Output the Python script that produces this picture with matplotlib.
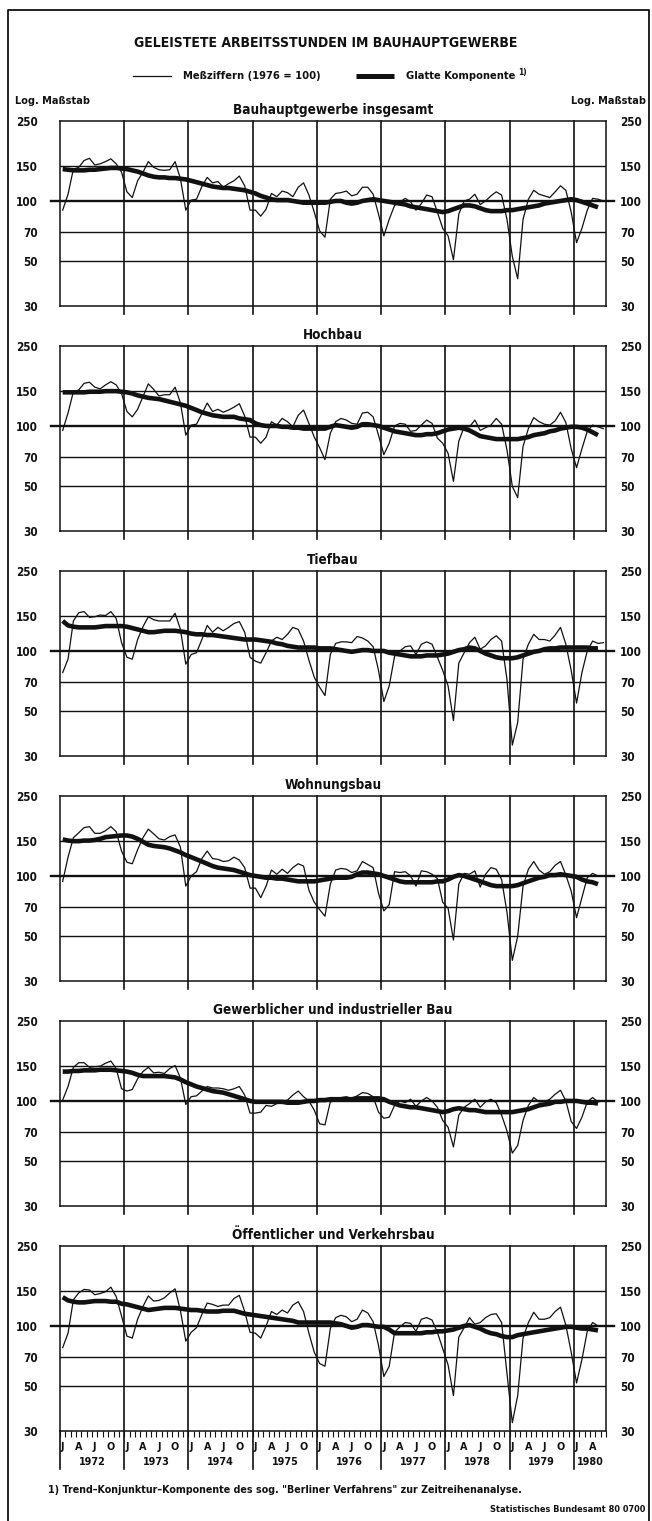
import os
import numpy as np
import matplotlib
matplotlib.use("Agg")
import matplotlib.pyplot as plt
from matplotlib.lines import Line2D
from matplotlib.ticker import FixedLocator, NullLocator
from matplotlib import font_manager as fm


def narrow_family():
    """Prefer an installed condensed/narrow bold face, else Liberation Sans."""
    best = None
    for f in fm.fontManager.ttflist:
        label = (f.name + " " + os.path.basename(f.fname)).lower()
        if "mono" in label or "serif" in label and "sans" not in label:
            continue
        if ("narrow" in label or "condensed" in label
                or str(f.stretch) in ("condensed", "semi-condensed")):
            w = f.weight if isinstance(f.weight, int) else 400
            score = abs(w - 700) + (50 if "semi" in label else 0)
            if best is None or score < best[0]:
                best = (score, f.name, str(f.stretch))
    if best is None:
        return "Liberation Sans", "normal"
    return best[1], best[2]


FAMILY, STRETCH = narrow_family()
plt.rcParams['font.family'] = [FAMILY, 'DejaVu Sans']
plt.rcParams['font.stretch'] = STRETCH
plt.rcParams['font.weight'] = 'bold'

# ---------------------------------------------------------------- texts
title = "GELEISTETE ARBEITSSTUNDEN IM BAUHAUPTGEWERBE"
legend_raw = "Meßziffern (1976 = 100)"
legend_smooth = "Glatte Komponente"
legend_note = "1)"
scale_note = "Log. Maßstab"
footnote = ('1) Trend\u2013Konjunktur\u2013Komponente des sog. "Berliner Verfahrens" '
            'zur Zeitreihenanalyse.')
source = "Statistisches Bundesamt 80 0700"

panel_titles = [
    "Bauhauptgewerbe insgesamt",
    "Hochbau",
    "Tiefbau",
    "Wohnungsbau",
    "Gewerblicher und industrieller Bau",
    "Öffentlicher und Verkehrsbau",
]

years = [1972, 1973, 1974, 1975, 1976, 1977, 1978, 1979, 1980]
month_letters = ["J", "A", "J", "O"]
month_letter_index = [0, 3, 6, 9]
y_ticks = [30, 50, 70, 100, 150, 250]
grid_levels = [50, 70, 150]
base_level = 100
n_months = 102          # Jan 1972 .. Jun 1980

# ---------------------------------------------------------------- data
# monthly index values (1976 = 100), Jan 1972 .. Jun 1980
raw_insgesamt = [
    90, 108, 144, 147, 159, 163, 151, 153, 157, 162, 153, 139,
    111, 104, 126, 139, 157, 147, 143, 142, 143, 157, 129, 90,
    101, 102, 118, 131, 123, 125, 117, 122, 126, 133, 119, 90,
    90, 84, 91, 109, 105, 112, 110, 105, 117, 123, 107, 88,
    71, 66, 102, 109, 110, 112, 106, 108, 117, 117, 108, 86,
    67, 81, 95, 99, 103, 99, 90, 97, 107, 105, 88, 73,
    67, 51, 86, 100, 102, 108, 96, 100, 106, 111, 107, 81,
    53, 41, 81, 102, 113, 108, 106, 104, 111, 119, 113, 88,
    62, 73, 90, 103, 102, 100,
]
raw_hochbau = [
    95, 116, 148, 151, 163, 165, 156, 153, 160, 166, 160, 145,
    118, 111, 121, 140, 162, 152, 141, 143, 143, 156, 130, 90,
    101, 102, 115, 130, 118, 121, 117, 120, 124, 129, 112, 88,
    88, 82, 88, 105, 101, 109, 105, 99, 113, 120, 103, 88,
    78, 68, 92, 105, 109, 107, 103, 102, 116, 117, 111, 90,
    72, 82, 100, 103, 102, 94, 95, 101, 107, 103, 87, 82,
    73, 53, 84, 99, 99, 107, 95, 98, 101, 109, 102, 76,
    50, 44, 79, 97, 110, 105, 102, 101, 106, 117, 104, 77,
    62, 77, 94, 101, 99, 97,
]
raw_tiefbau = [
    78, 91, 141, 155, 157, 147, 148, 151, 150, 157, 145, 110,
    93, 91, 114, 132, 148, 143, 141, 141, 141, 154, 128, 86,
    96, 98, 114, 134, 124, 131, 126, 131, 137, 140, 124, 93,
    89, 87, 98, 112, 117, 114, 121, 131, 128, 112, 90, 74,
    66, 60, 96, 109, 111, 111, 110, 118, 116, 112, 105, 80,
    56, 67, 94, 100, 105, 106, 96, 108, 111, 108, 93, 80,
    67, 45, 87, 98, 110, 117, 102, 106, 114, 119, 112, 72,
    34, 44, 91, 108, 121, 114, 114, 112, 120, 131, 108, 80,
    55, 78, 100, 112, 109, 110,
]
raw_wohnungsbau = [
    94, 124, 155, 164, 174, 176, 163, 163, 168, 176, 166, 133,
    117, 115, 135, 155, 171, 162, 153, 151, 157, 160, 139, 89,
    100, 105, 122, 133, 122, 121, 118, 119, 124, 120, 110, 87,
    87, 78, 89, 107, 102, 108, 103, 110, 115, 112, 85, 74,
    68, 63, 91, 107, 109, 108, 104, 106, 118, 114, 110, 82,
    67, 72, 105, 104, 105, 100, 89, 106, 105, 102, 97, 74,
    69, 48, 91, 103, 102, 106, 88, 102, 110, 108, 96, 66,
    38, 50, 89, 108, 118, 107, 102, 105, 113, 118, 101, 84,
    62, 78, 98, 103, 100, 100,
]
raw_gewerbe = [
    101, 118, 147, 155, 155, 147, 148, 149, 154, 158, 145, 115,
    112, 114, 129, 140, 147, 138, 139, 137, 145, 150, 130, 96,
    105, 106, 112, 118, 116, 116, 115, 113, 115, 118, 107, 87,
    87, 88, 95, 94, 97, 100, 101, 107, 112, 105, 100, 90,
    77, 76, 99, 100, 104, 105, 103, 106, 110, 109, 105, 88,
    82, 83, 95, 100, 98, 102, 94, 100, 104, 100, 93, 80,
    74, 59, 85, 93, 97, 102, 93, 99, 102, 98, 85, 71,
    55, 60, 80, 95, 104, 99, 99, 102, 108, 113, 100, 79,
    73, 83, 99, 104, 99, 100,
]
raw_oeffentlich = [
    78, 92, 135, 146, 152, 151, 143, 145, 148, 156, 140, 112,
    89, 87, 108, 125, 141, 133, 134, 138, 146, 153, 119, 84,
    93, 98, 114, 130, 128, 125, 127, 127, 137, 142, 118, 93,
    92, 87, 100, 118, 114, 120, 116, 127, 132, 118, 92, 74,
    65, 63, 97, 110, 113, 111, 105, 108, 120, 116, 105, 80,
    56, 63, 93, 99, 104, 103, 94, 108, 110, 107, 93, 77,
    64, 45, 88, 98, 110, 102, 104, 110, 114, 115, 104, 58,
    33, 45, 87, 104, 117, 108, 108, 110, 118, 124, 101, 74,
    52, 68, 94, 104, 100, 100,
]

# smooth (trend-cycle) component, Jan 1972 .. May 1980
smooth_insgesamt = [
    144, 143, 142, 142, 142, 143, 143, 144, 145, 146, 146, 145,
    144, 142, 140, 137, 134, 132, 131, 131, 130, 130, 129, 128,
    126, 124, 122, 120, 118, 117, 116, 116, 115, 114, 113, 111,
    109, 106, 104, 102, 101, 101, 101, 100, 99, 98, 98, 98,
    98, 98, 99, 100, 100, 98, 97, 98, 100, 101, 102, 101,
    100, 99, 98, 97, 96, 94, 93, 92, 91, 90, 89, 88,
    89, 91, 93, 95, 95, 94, 92, 90, 89, 89, 89, 90,
    90, 91, 92, 93, 94, 95, 97, 98, 99, 100, 101, 102,
    101, 99, 97, 95, 93,
]
smooth_hochbau = [
    147, 147, 147, 147, 147, 148, 148, 148, 149, 149, 149, 148,
    147, 145, 142, 140, 138, 137, 136, 134, 132, 130, 128, 126,
    123, 120, 117, 115, 113, 112, 111, 111, 111, 109, 108, 107,
    103, 101, 100, 100, 100, 99, 99, 98, 98, 97, 97, 97,
    97, 97, 99, 101, 100, 99, 98, 99, 102, 102, 101, 100,
    98, 96, 94, 93, 92, 91, 90, 90, 91, 91, 92, 94,
    96, 97, 98, 97, 95, 92, 89, 88, 87, 86, 86, 86,
    86, 86, 87, 88, 90, 91, 92, 94, 95, 97, 98, 99,
    99, 98, 96, 93, 90,
]
smooth_tiefbau = [
    141, 134, 132, 131, 131, 131, 131, 132, 133, 133, 133, 133,
    132, 130, 128, 126, 124, 124, 125, 126, 126, 126, 125, 124,
    122, 121, 121, 120, 120, 119, 118, 117, 116, 115, 114, 114,
    114, 113, 112, 111, 109, 108, 106, 105, 104, 104, 104, 104,
    103, 103, 103, 102, 101, 100, 99, 100, 101, 101, 100, 100,
    100, 98, 97, 96, 95, 94, 94, 94, 95, 95, 95, 96,
    97, 99, 101, 102, 104, 103, 100, 97, 95, 93, 92, 92,
    92, 93, 95, 97, 99, 100, 102, 103, 103, 104, 104, 104,
    104, 104, 104, 103, 103,
]
smooth_wohnungsbau = [
    152, 150, 149, 149, 150, 150, 151, 153, 156, 157, 158, 159,
    159, 157, 153, 148, 143, 141, 140, 139, 137, 134, 131, 127,
    124, 121, 118, 115, 112, 110, 109, 108, 107, 105, 103, 101,
    100, 99, 98, 98, 97, 97, 96, 95, 94, 94, 94, 94,
    95, 96, 97, 98, 98, 98, 99, 102, 104, 104, 103, 102,
    100, 98, 96, 94, 93, 93, 93, 93, 93, 93, 94, 94,
    96, 99, 101, 100, 98, 96, 94, 92, 90, 89, 89, 89,
    89, 90, 92, 94, 96, 98, 99, 101, 101, 102, 101, 100,
    99, 96, 94, 93, 91,
]
smooth_gewerbe = [
    140, 140, 141, 141, 142, 142, 142, 143, 143, 143, 142, 141,
    140, 138, 135, 133, 133, 133, 133, 133, 132, 131, 128, 124,
    121, 118, 116, 114, 112, 111, 110, 108, 106, 104, 102, 100,
    99, 99, 99, 99, 99, 99, 98, 98, 98, 99, 100, 100,
    101, 101, 102, 102, 102, 102, 102, 103, 103, 103, 103, 103,
    102, 99, 97, 95, 94, 93, 93, 92, 91, 90, 89, 88,
    89, 91, 92, 91, 90, 90, 89, 88, 88, 88, 88, 88,
    88, 89, 90, 91, 93, 95, 96, 97, 99, 99, 100, 100,
    100, 99, 98, 98, 97,
]
smooth_oeffentlich = [
    139, 134, 132, 131, 131, 132, 133, 133, 133, 132, 132, 129,
    128, 126, 124, 122, 120, 121, 122, 123, 123, 123, 122, 121,
    120, 120, 119, 118, 118, 118, 119, 119, 119, 117, 115, 114,
    113, 112, 111, 110, 109, 108, 107, 106, 104, 104, 104, 104,
    104, 104, 104, 103, 102, 100, 98, 99, 101, 101, 100, 99,
    99, 96, 92, 92, 92, 92, 92, 92, 93, 93, 94, 94,
    95, 96, 98, 100, 101, 99, 97, 94, 92, 91, 89, 88,
    88, 90, 91, 92, 93, 94, 95, 96, 97, 98, 99, 99,
    98, 97, 97, 96, 95,
]

raw_series = [raw_insgesamt, raw_hochbau, raw_tiefbau,
              raw_wohnungsbau, raw_gewerbe, raw_oeffentlich]
smooth_series = [smooth_insgesamt, smooth_hochbau, smooth_tiefbau,
                 smooth_wohnungsbau, smooth_gewerbe, smooth_oeffentlich]

# ---------------------------------------------------------------- layout
W, H = 652, 1521
fig = plt.figure(figsize=(W / 100, H / 100), dpi=100)
fig.patch.set_facecolor("white")
renderer = fig.canvas.get_renderer()


def fx(px):
    return px / W


def fy(py):
    return 1 - py / H


def size_for(s, width_px, ref=10.0):
    """Font size at which string s is width_px pixels wide."""
    t = fig.text(0, 0, s, fontsize=ref)
    w = t.get_window_extent(renderer).width
    t.remove()
    return ref * width_px / w


AX_L, AX_R = 60, 606
AX_H = 185
TOPS = [121, 346, 571, 796, 1021, 1246]
INK = "#111111"

TICK_FS = min(size_for("250", 22), 10.5)
YEAR_FS = min(size_for("1976", 27), 11)
MONTH_FS = YEAR_FS
PANEL_FS = size_for(panel_titles[0], 200)
LEGEND_FS = size_for(legend_raw, 138)
NOTE_FS = size_for(scale_note, 74)

# outer frame (open at the bottom edge)
fig.add_artist(Line2D([fx(8), fx(8), fx(649), fx(649)],
                      [fy(1521), fy(10), fy(10), fy(1521)],
                      color=INK, lw=1.3))

fig.text(fx(326), fy(43), title, ha="center", va="center",
         fontsize=size_for(title, 384), color=INK)

# legend
fig.add_artist(Line2D([fx(133), fx(171)], [fy(76), fy(76)], color=INK, lw=0.9))
fig.text(fx(183), fy(76), legend_raw, ha="left", va="center",
         fontsize=LEGEND_FS, color=INK)
fig.add_artist(Line2D([fx(356), fx(394)], [fy(76), fy(76)], color=INK, lw=3.6,
                      solid_capstyle="butt"))
t_leg = fig.text(fx(406), fy(76), legend_smooth, ha="left", va="center",
                 fontsize=LEGEND_FS, color=INK)
leg_right = t_leg.get_window_extent(renderer).x1
fig.text((leg_right + 3) / W, fy(73), legend_note, ha="left", va="center",
         fontsize=LEGEND_FS * 0.75, color=INK)

fig.text(fx(15), fy(101), scale_note, ha="left", va="center",
         fontsize=NOTE_FS, color=INK)
fig.text(fx(646), fy(101), scale_note, ha="right", va="center",
         fontsize=NOTE_FS, color=INK)

for i, (top, name, raw, smooth) in enumerate(
        zip(TOPS, panel_titles, raw_series, smooth_series)):
    last = i == len(TOPS) - 1
    ax = fig.add_axes([fx(AX_L), fy(top + AX_H), (AX_R - AX_L) / W, AX_H / H])
    ax.set_yscale("log")
    ax.set_ylim(y_ticks[0], y_ticks[-1])
    ax.set_xlim(0, n_months)
    for s in ax.spines.values():
        s.set_linewidth(1.1)
        s.set_color(INK)

    ax.yaxis.set_major_locator(FixedLocator(y_ticks))
    ax.yaxis.set_minor_locator(NullLocator())
    ax.set_yticklabels([str(v) for v in y_ticks])
    ax.tick_params(axis="y", length=0, pad=16, labelsize=TICK_FS,
                   labelcolor=INK)

    twin = ax.twinx()
    twin.set_yscale("log")
    twin.set_ylim(y_ticks[0], y_ticks[-1])
    twin.yaxis.set_major_locator(FixedLocator(y_ticks))
    twin.yaxis.set_minor_locator(NullLocator())
    twin.set_yticklabels([str(v) for v in y_ticks])
    twin.tick_params(axis="y", length=0, pad=10, labelsize=TICK_FS,
                     labelcolor=INK)
    for s in twin.spines.values():
        s.set_visible(False)

    # grid
    for lev in grid_levels:
        ax.axhline(lev, color=INK, lw=1.0, zorder=1)
    ax.plot([-0.017, 1.015], [base_level, base_level], color=INK, lw=1.7,
            transform=ax.get_yaxis_transform(), clip_on=False, zorder=2)
    drop = -38 / AX_H if last else -8 / AX_H
    for k in range(1, len(years)):
        ax.plot([k * 12, k * 12], [1, drop], color=INK, lw=1.2,
                transform=ax.get_xaxis_transform(), clip_on=False, zorder=1)
    if last:
        ax.plot([0, 0], [0, drop], color=INK, lw=1.2,
                transform=ax.get_xaxis_transform(), clip_on=False)

    # series
    x_raw = np.arange(len(raw)) + 0.5
    x_smooth = np.arange(len(smooth)) + 0.5
    ax.plot(x_raw, raw, color=INK, lw=0.9, zorder=3)
    ax.plot(x_smooth, smooth, color=INK, lw=3.3, zorder=4,
            solid_capstyle="butt", solid_joinstyle="round")

    ax.text(0.5, 1 + 11 / AX_H, name, transform=ax.transAxes, ha="center",
            va="center", fontsize=PANEL_FS, color=INK)

    if last:
        ax.set_xticks(np.arange(0, n_months + 1), minor=True)
        pos, lab = [], []
        for yi in range(len(years)):
            for mi, letter in zip(month_letter_index, month_letters):
                m = yi * 12 + mi
                if m < n_months:
                    pos.append(m + 0.5)
                    lab.append(letter)
        ax.set_xticks(pos)
        ax.set_xticklabels(lab)
        ax.tick_params(axis="x", which="major", length=0, pad=8,
                       labelsize=MONTH_FS, labelcolor=INK)
        ax.tick_params(axis="x", which="minor", length=4.5, width=0.8,
                       direction="out", color=INK)
        for yi, yr in enumerate(years):
            start = yi * 12
            end = min(start + 12, n_months)
            ax.text((start + end) / 2, -31 / AX_H, str(yr),
                    transform=ax.get_xaxis_transform(), ha="center",
                    va="center", fontsize=YEAR_FS, color=INK)
    else:
        ax.set_xticks([])

fig.text(fx(48), fy(1490), footnote, ha="left", va="center",
         fontsize=size_for(footnote, 474), color=INK)
fig.text(fx(645), fy(1510), source, ha="right", va="center",
         fontsize=size_for(source, 155), color=INK)

fig.savefig("out.png", dpi=100, facecolor="white")
